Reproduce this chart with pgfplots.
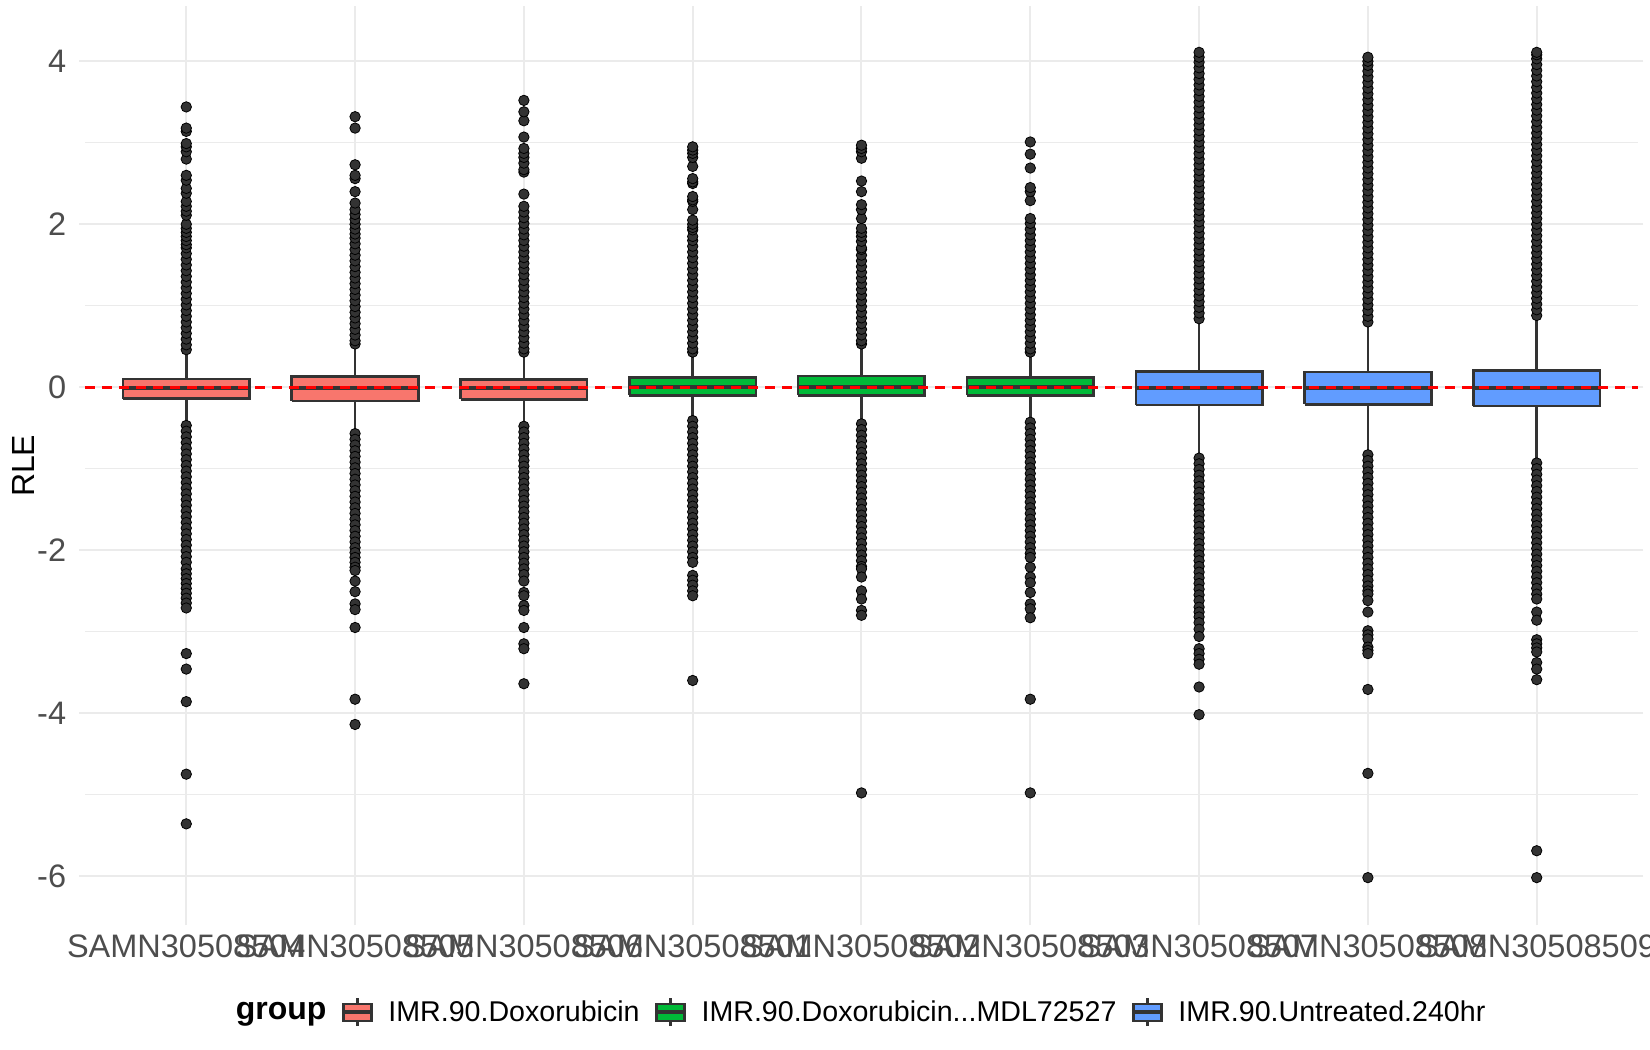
\documentclass[border=0pt]{standalone}
\usepackage{fontspec}
\setmainfont{Liberation Sans}
\usepackage{pgfplots}
\pgfplotsset{compat=1.18}
\definecolor{cred}{HTML}{F8766D}
\definecolor{cgreen}{HTML}{00BA38}
\definecolor{cblue}{HTML}{619CFF}
\definecolor{c333}{HTML}{333333}
\definecolor{gridc}{HTML}{EBEBEB}
\definecolor{tlc}{HTML}{4D4D4D}
\pgfplotsset{
  boxkey/.style={legend image code/.code={
    \draw[draw=c333, line width=1.2pt] (7pt,-7pt) -- (7pt,7pt);
    \draw[draw=c333, line width=1.2pt, fill=#1] (0pt,-4.25pt) rectangle (14pt,4.25pt);
    \draw[draw=c333, line width=1.8pt] (0pt,0pt) -- (14pt,0pt);
  }},
  outl/.style={only marks, mark=*, mark size=2.6pt, mark options={draw=none, fill=c333}, forget plot},
  whisk/.style={forget plot, draw=c333, line width=1.3pt},
  bx/.style={forget plot, draw=c333, line width=1.3pt, line join=miter, fill=#1},
  med/.style={forget plot, draw=c333, line width=2pt},
}
\begin{document}
\begin{tikzpicture}
\path[use as bounding box] (0,0) rectangle (825pt,525pt);
\begin{axis}[
  at={(42.5pt,65pt)}, anchor=south west,
  scale only axis, width=776.5pt, height=454.2pt,
  xmin=0.4, xmax=9.6, ymin=-6.54, ymax=4.61,
  xtick={1,2,3,4,5,6,7,8,9},
  xticklabels={SAMN30508504,SAMN30508505,SAMN30508506,SAMN30508501,SAMN30508502,SAMN30508503,SAMN30508507,SAMN30508508,SAMN30508509},
  ytick={-6,-4,-2,0,2,4}, yticklabels={-6,-4,-2,0,2,4},
  minor ytick={-5,-3,-1,1,3},
  xmajorgrids, ymajorgrids, yminorgrids,
  major grid style={draw=gridc, line width=1pt},
  minor grid style={draw=gridc, line width=0.5pt},
  axis line style={draw=none},
  tick align=outside, major tick length=2.75pt, minor tick length=0pt,
  every tick/.style={draw=gridc, line width=1pt},
  tick label style={font=\fontsize{16.25pt}{19pt}\selectfont, text=tlc},
  xticklabel style={anchor=north, inner sep=0pt, yshift=-4.65pt},
  yticklabel style={anchor=east, inner sep=0pt, xshift=-6.5pt},
  ylabel={RLE},
  every axis y label/.style={at={(axis description cs:-0.0399,0.5)}, rotate=90, anchor=center, font=\fontsize{16pt}{19pt}\selectfont},
  legend columns=4,
  legend style={at={(0.4945,-0.1015)}, anchor=center, draw=none, fill=none, inner sep=0pt, outer sep=0pt, column sep=7.6pt, nodes={inner sep=0pt}, cells={anchor=west}, font=\fontsize{14.3pt}{17pt}\selectfont},
]
\addlegendimage{empty legend}
\addlegendentry{\raisebox{0pt}[\height][0pt]{\fontsize{16pt}{19pt}\selectfont\bfseries group}}
\addlegendimage{boxkey=cred}
\addlegendentry{IMR.90.Doxorubicin}
\addlegendimage{boxkey=cgreen}
\addlegendentry{IMR.90.Doxorubicin...MDL72527}
\addlegendimage{boxkey=cblue}
\addlegendentry{IMR.90.Untreated.240hr}

% ---- box 1: SAMN30508504
\addplot[outl] coordinates {(1,0.46)(1,0.52)(1,0.59)(1,0.66)(1,0.73)(1,0.80)(1,0.87)(1,0.94)(1,1.01)(1,1.08)(1,1.15)(1,1.22)(1,1.29)(1,1.36)(1,1.43)(1,1.50)(1,1.57)(1,1.64)(1,1.71)(1,1.75)(1,1.80)(1,1.85)(1,1.90)(1,1.95)(1,2.00)(1,2.11)(1,2.16)(1,2.22)(1,2.28)(1,2.38)(1,2.44)(1,2.54)(1,2.60)(1,2.80)(1,2.89)(1,2.95)(1,2.99)(1,3.14)(1,3.18)(1,3.44)
(1,-0.47)(1,-0.54)(1,-0.61)(1,-0.68)(1,-0.75)(1,-0.82)(1,-0.89)(1,-0.96)(1,-1.03)(1,-1.10)(1,-1.17)(1,-1.24)(1,-1.31)(1,-1.38)(1,-1.45)(1,-1.52)(1,-1.59)(1,-1.66)(1,-1.73)(1,-1.80)(1,-1.87)(1,-1.94)(1,-2.01)(1,-2.08)(1,-2.15)(1,-2.23)(1,-2.29)(1,-2.35)(1,-2.41)(1,-2.47)(1,-2.53)(1,-2.59)(1,-2.65)(1,-2.71)(1,-3.27)(1,-3.46)(1,-3.86)(1,-4.75)(1,-5.36)};
\addplot[whisk] coordinates {(1,0.10) (1,0.40)};
\addplot[whisk] coordinates {(1,-0.14) (1,-0.44)};
\addplot[bx=cred] coordinates {(0.625,-0.14) (1.375,-0.14) (1.375,0.10) (0.625,0.10) (0.625,-0.14)};
\addplot[med] coordinates {(0.625,-0.005) (1.375,-0.005)};

% ---- box 2: SAMN30508505
\addplot[outl] coordinates {(2,0.53)(2,0.57)(2,0.64)(2,0.71)(2,0.78)(2,0.85)(2,0.92)(2,0.99)(2,1.06)(2,1.13)(2,1.20)(2,1.27)(2,1.34)(2,1.41)(2,1.48)(2,1.55)(2,1.62)(2,1.69)(2,1.76)(2,1.83)(2,1.88)(2,1.94)(2,2.00)(2,2.06)(2,2.12)(2,2.18)(2,2.26)(2,2.40)(2,2.56)(2,2.60)(2,2.73)(2,3.18)(2,3.32)
(2,-0.57)(2,-0.64)(2,-0.71)(2,-0.78)(2,-0.85)(2,-0.92)(2,-0.99)(2,-1.06)(2,-1.13)(2,-1.20)(2,-1.27)(2,-1.34)(2,-1.41)(2,-1.48)(2,-1.55)(2,-1.62)(2,-1.69)(2,-1.76)(2,-1.83)(2,-1.90)(2,-1.97)(2,-2.03)(2,-2.09)(2,-2.15)(2,-2.21)(2,-2.25)(2,-2.38)(2,-2.51)(2,-2.66)(2,-2.73)(2,-2.95)(2,-3.83)(2,-4.14)};
\addplot[whisk] coordinates {(2,0.13) (2,0.50)};
\addplot[whisk] coordinates {(2,-0.17) (2,-0.54)};
\addplot[bx=cred] coordinates {(1.625,-0.17) (2.375,-0.17) (2.375,0.13) (1.625,0.13) (1.625,-0.17)};
\addplot[med] coordinates {(1.625,-0.005) (2.375,-0.005)};

% ---- box 3: SAMN30508506
\addplot[outl] coordinates {(3,0.43)(3,0.47)(3,0.54)(3,0.61)(3,0.68)(3,0.75)(3,0.82)(3,0.89)(3,0.96)(3,1.03)(3,1.10)(3,1.17)(3,1.24)(3,1.31)(3,1.38)(3,1.45)(3,1.52)(3,1.59)(3,1.66)(3,1.73)(3,1.80)(3,1.87)(3,1.94)(3,2.01)(3,2.08)(3,2.15)(3,2.22)(3,2.37)(3,2.64)(3,2.67)(3,2.75)(3,2.82)(3,2.87)(3,2.93)(3,3.07)(3,3.27)(3,3.38)(3,3.52)
(3,-0.48)(3,-0.55)(3,-0.62)(3,-0.69)(3,-0.76)(3,-0.83)(3,-0.90)(3,-0.97)(3,-1.04)(3,-1.11)(3,-1.18)(3,-1.25)(3,-1.32)(3,-1.39)(3,-1.46)(3,-1.53)(3,-1.60)(3,-1.67)(3,-1.74)(3,-1.81)(3,-1.88)(3,-1.95)(3,-2.02)(3,-2.09)(3,-2.16)(3,-2.23)(3,-2.30)(3,-2.38)(3,-2.52)(3,-2.56)(3,-2.68)(3,-2.74)(3,-2.95)(3,-3.15)(3,-3.21)(3,-3.64)};
\addplot[whisk] coordinates {(3,0.095) (3,0.40)};
\addplot[whisk] coordinates {(3,-0.15) (3,-0.46)};
\addplot[bx=cred] coordinates {(2.625,-0.15) (3.375,-0.15) (3.375,0.095) (2.625,0.095) (2.625,-0.15)};
\addplot[med] coordinates {(2.625,-0.005) (3.375,-0.005)};

% ---- box 4: SAMN30508501
\addplot[outl] coordinates {(4,0.43)(4,0.47)(4,0.54)(4,0.61)(4,0.68)(4,0.75)(4,0.82)(4,0.89)(4,0.96)(4,1.03)(4,1.10)(4,1.17)(4,1.24)(4,1.31)(4,1.38)(4,1.45)(4,1.52)(4,1.59)(4,1.66)(4,1.73)(4,1.80)(4,1.85)(4,1.93)(4,1.96)(4,2.00)(4,2.05)(4,2.18)(4,2.28)(4,2.30)(4,2.34)(4,2.50)(4,2.52)(4,2.56)(4,2.71)(4,2.82)(4,2.87)(4,2.91)(4,2.95)
(4,-0.41)(4,-0.48)(4,-0.55)(4,-0.62)(4,-0.69)(4,-0.76)(4,-0.83)(4,-0.90)(4,-0.97)(4,-1.04)(4,-1.11)(4,-1.18)(4,-1.25)(4,-1.32)(4,-1.39)(4,-1.46)(4,-1.53)(4,-1.60)(4,-1.67)(4,-1.74)(4,-1.81)(4,-1.88)(4,-1.95)(4,-2.02)(4,-2.09)(4,-2.15)(4,-2.31)(4,-2.37)(4,-2.43)(4,-2.50)(4,-2.56)(4,-3.60)};
\addplot[whisk] coordinates {(4,0.12) (4,0.40)};
\addplot[whisk] coordinates {(4,-0.10) (4,-0.38)};
\addplot[bx=cgreen] coordinates {(3.625,-0.10) (4.375,-0.10) (4.375,0.12) (3.625,0.12) (3.625,-0.10)};
\addplot[med] coordinates {(3.625,0) (4.375,0)};

% ---- box 5: SAMN30508502
\addplot[outl] coordinates {(5,0.53)(5,0.57)(5,0.64)(5,0.71)(5,0.78)(5,0.85)(5,0.92)(5,0.99)(5,1.06)(5,1.13)(5,1.20)(5,1.27)(5,1.34)(5,1.41)(5,1.48)(5,1.55)(5,1.62)(5,1.69)(5,1.71)(5,1.79)(5,1.85)(5,1.90)(5,1.95)(5,2.07)(5,2.18)(5,2.24)(5,2.40)(5,2.53)(5,2.81)(5,2.89)(5,2.93)(5,2.97)
(5,-0.45)(5,-0.52)(5,-0.59)(5,-0.66)(5,-0.73)(5,-0.80)(5,-0.87)(5,-0.94)(5,-1.01)(5,-1.08)(5,-1.15)(5,-1.22)(5,-1.29)(5,-1.36)(5,-1.43)(5,-1.50)(5,-1.57)(5,-1.64)(5,-1.71)(5,-1.78)(5,-1.85)(5,-1.92)(5,-1.99)(5,-2.06)(5,-2.13)(5,-2.20)(5,-2.23)(5,-2.33)(5,-2.50)(5,-2.60)(5,-2.74)(5,-2.80)(5,-4.98)};
\addplot[whisk] coordinates {(5,0.135) (5,0.50)};
\addplot[whisk] coordinates {(5,-0.10) (5,-0.42)};
\addplot[bx=cgreen] coordinates {(4.625,-0.10) (5.375,-0.10) (5.375,0.135) (4.625,0.135) (4.625,-0.10)};
\addplot[med] coordinates {(4.625,0) (5.375,0)};

% ---- box 6: SAMN30508503
\addplot[outl] coordinates {(6,0.43)(6,0.47)(6,0.54)(6,0.61)(6,0.68)(6,0.75)(6,0.82)(6,0.89)(6,0.96)(6,1.03)(6,1.10)(6,1.17)(6,1.24)(6,1.31)(6,1.38)(6,1.45)(6,1.52)(6,1.59)(6,1.66)(6,1.73)(6,1.80)(6,1.87)(6,1.94)(6,2.01)(6,2.07)(6,2.29)(6,2.40)(6,2.45)(6,2.69)(6,2.86)(6,3.01)
(6,-0.43)(6,-0.50)(6,-0.57)(6,-0.64)(6,-0.71)(6,-0.78)(6,-0.85)(6,-0.92)(6,-0.99)(6,-1.06)(6,-1.13)(6,-1.20)(6,-1.27)(6,-1.34)(6,-1.41)(6,-1.48)(6,-1.55)(6,-1.62)(6,-1.69)(6,-1.76)(6,-1.83)(6,-1.90)(6,-1.97)(6,-2.04)(6,-2.09)(6,-2.21)(6,-2.33)(6,-2.40)(6,-2.52)(6,-2.66)(6,-2.72)(6,-2.83)(6,-3.83)(6,-4.98)};
\addplot[whisk] coordinates {(6,0.12) (6,0.40)};
\addplot[whisk] coordinates {(6,-0.10) (6,-0.40)};
\addplot[bx=cgreen] coordinates {(5.625,-0.10) (6.375,-0.10) (6.375,0.12) (5.625,0.12) (5.625,-0.10)};
\addplot[med] coordinates {(5.625,0) (6.375,0)};

% ---- box 7: SAMN30508507
\addplot[outl] coordinates {(7,0.84)(7,0.91)(7,0.98)(7,1.05)(7,1.12)(7,1.19)(7,1.26)(7,1.33)(7,1.40)(7,1.47)(7,1.54)(7,1.61)(7,1.68)(7,1.75)(7,1.82)(7,1.89)(7,1.96)(7,2.03)(7,2.10)(7,2.17)(7,2.24)(7,2.31)(7,2.38)(7,2.45)(7,2.52)(7,2.59)(7,2.66)(7,2.73)(7,2.80)(7,2.87)(7,2.94)(7,3.01)(7,3.08)(7,3.15)(7,3.22)(7,3.29)(7,3.36)(7,3.43)(7,3.50)(7,3.57)(7,3.64)(7,3.71)(7,3.78)(7,3.85)(7,3.92)(7,3.99)(7,4.05)(7,4.11)
(7,-0.87)(7,-0.94)(7,-1.01)(7,-1.08)(7,-1.15)(7,-1.22)(7,-1.29)(7,-1.36)(7,-1.43)(7,-1.50)(7,-1.57)(7,-1.64)(7,-1.71)(7,-1.78)(7,-1.85)(7,-1.92)(7,-1.99)(7,-2.06)(7,-2.13)(7,-2.20)(7,-2.27)(7,-2.34)(7,-2.41)(7,-2.48)(7,-2.55)(7,-2.62)(7,-2.70)(7,-2.76)(7,-2.82)(7,-2.89)(7,-2.97)(7,-3.06)(7,-3.21)(7,-3.27)(7,-3.34)(7,-3.40)(7,-3.68)(7,-4.02)};
\addplot[whisk] coordinates {(7,0.196) (7,0.81)};
\addplot[whisk] coordinates {(7,-0.22) (7,-0.845)};
\addplot[bx=cblue] coordinates {(6.625,-0.22) (7.375,-0.22) (7.375,0.196) (6.625,0.196) (6.625,-0.22)};
\addplot[med] coordinates {(6.625,-0.005) (7.375,-0.005)};

% ---- box 8: SAMN30508508
\addplot[outl] coordinates {(8,0.80)(8,0.87)(8,0.94)(8,1.01)(8,1.08)(8,1.15)(8,1.22)(8,1.29)(8,1.36)(8,1.43)(8,1.50)(8,1.57)(8,1.64)(8,1.71)(8,1.78)(8,1.85)(8,1.92)(8,1.99)(8,2.06)(8,2.13)(8,2.20)(8,2.27)(8,2.34)(8,2.41)(8,2.48)(8,2.55)(8,2.62)(8,2.69)(8,2.76)(8,2.83)(8,2.90)(8,2.97)(8,3.04)(8,3.11)(8,3.18)(8,3.25)(8,3.32)(8,3.39)(8,3.46)(8,3.53)(8,3.60)(8,3.67)(8,3.74)(8,3.81)(8,3.88)(8,3.95)(8,4.00)(8,4.05)
(8,-0.83)(8,-0.90)(8,-0.97)(8,-1.04)(8,-1.11)(8,-1.18)(8,-1.25)(8,-1.32)(8,-1.39)(8,-1.46)(8,-1.53)(8,-1.60)(8,-1.67)(8,-1.74)(8,-1.81)(8,-1.88)(8,-1.95)(8,-2.02)(8,-2.09)(8,-2.16)(8,-2.23)(8,-2.30)(8,-2.37)(8,-2.44)(8,-2.50)(8,-2.54)(8,-2.62)(8,-2.76)(8,-2.99)(8,-3.04)(8,-3.09)(8,-3.19)(8,-3.23)(8,-3.27)(8,-3.71)(8,-4.74)(8,-6.02)};
\addplot[whisk] coordinates {(8,0.184) (8,0.77)};
\addplot[whisk] coordinates {(8,-0.21) (8,-0.80)};
\addplot[bx=cblue] coordinates {(7.625,-0.21) (8.375,-0.21) (8.375,0.184) (7.625,0.184) (7.625,-0.21)};
\addplot[med] coordinates {(7.625,-0.005) (8.375,-0.005)};

% ---- box 9: SAMN30508509
\addplot[outl] coordinates {(9,0.88)(9,0.95)(9,1.02)(9,1.09)(9,1.16)(9,1.23)(9,1.30)(9,1.37)(9,1.44)(9,1.51)(9,1.58)(9,1.65)(9,1.72)(9,1.79)(9,1.86)(9,1.93)(9,2.00)(9,2.07)(9,2.14)(9,2.21)(9,2.28)(9,2.35)(9,2.42)(9,2.49)(9,2.56)(9,2.63)(9,2.70)(9,2.77)(9,2.84)(9,2.91)(9,2.98)(9,3.05)(9,3.12)(9,3.19)(9,3.26)(9,3.33)(9,3.40)(9,3.47)(9,3.54)(9,3.61)(9,3.68)(9,3.75)(9,3.82)(9,3.89)(9,3.96)(9,4.03)(9,4.08)(9,4.11)
(9,-0.93)(9,-1.00)(9,-1.07)(9,-1.14)(9,-1.21)(9,-1.28)(9,-1.35)(9,-1.42)(9,-1.49)(9,-1.56)(9,-1.63)(9,-1.70)(9,-1.77)(9,-1.84)(9,-1.91)(9,-1.98)(9,-2.05)(9,-2.12)(9,-2.19)(9,-2.26)(9,-2.33)(9,-2.40)(9,-2.47)(9,-2.54)(9,-2.60)(9,-2.76)(9,-2.86)(9,-3.10)(9,-3.15)(9,-3.20)(9,-3.25)(9,-3.38)(9,-3.46)(9,-3.59)(9,-5.69)(9,-6.02)};
\addplot[whisk] coordinates {(9,0.208) (9,0.85)};
\addplot[whisk] coordinates {(9,-0.233) (9,-0.906)};
\addplot[bx=cblue] coordinates {(8.625,-0.233) (9.375,-0.233) (9.375,0.208) (8.625,0.208) (8.625,-0.233)};
\addplot[med] coordinates {(8.625,-0.005) (9.375,-0.005)};

% ---- reference line
\addplot[forget plot, draw=red, line width=1.4pt, dash pattern=on 5pt off 3.5pt] coordinates {(0.4,0) (9.6,0)};
\end{axis}
\end{tikzpicture}
\end{document}
